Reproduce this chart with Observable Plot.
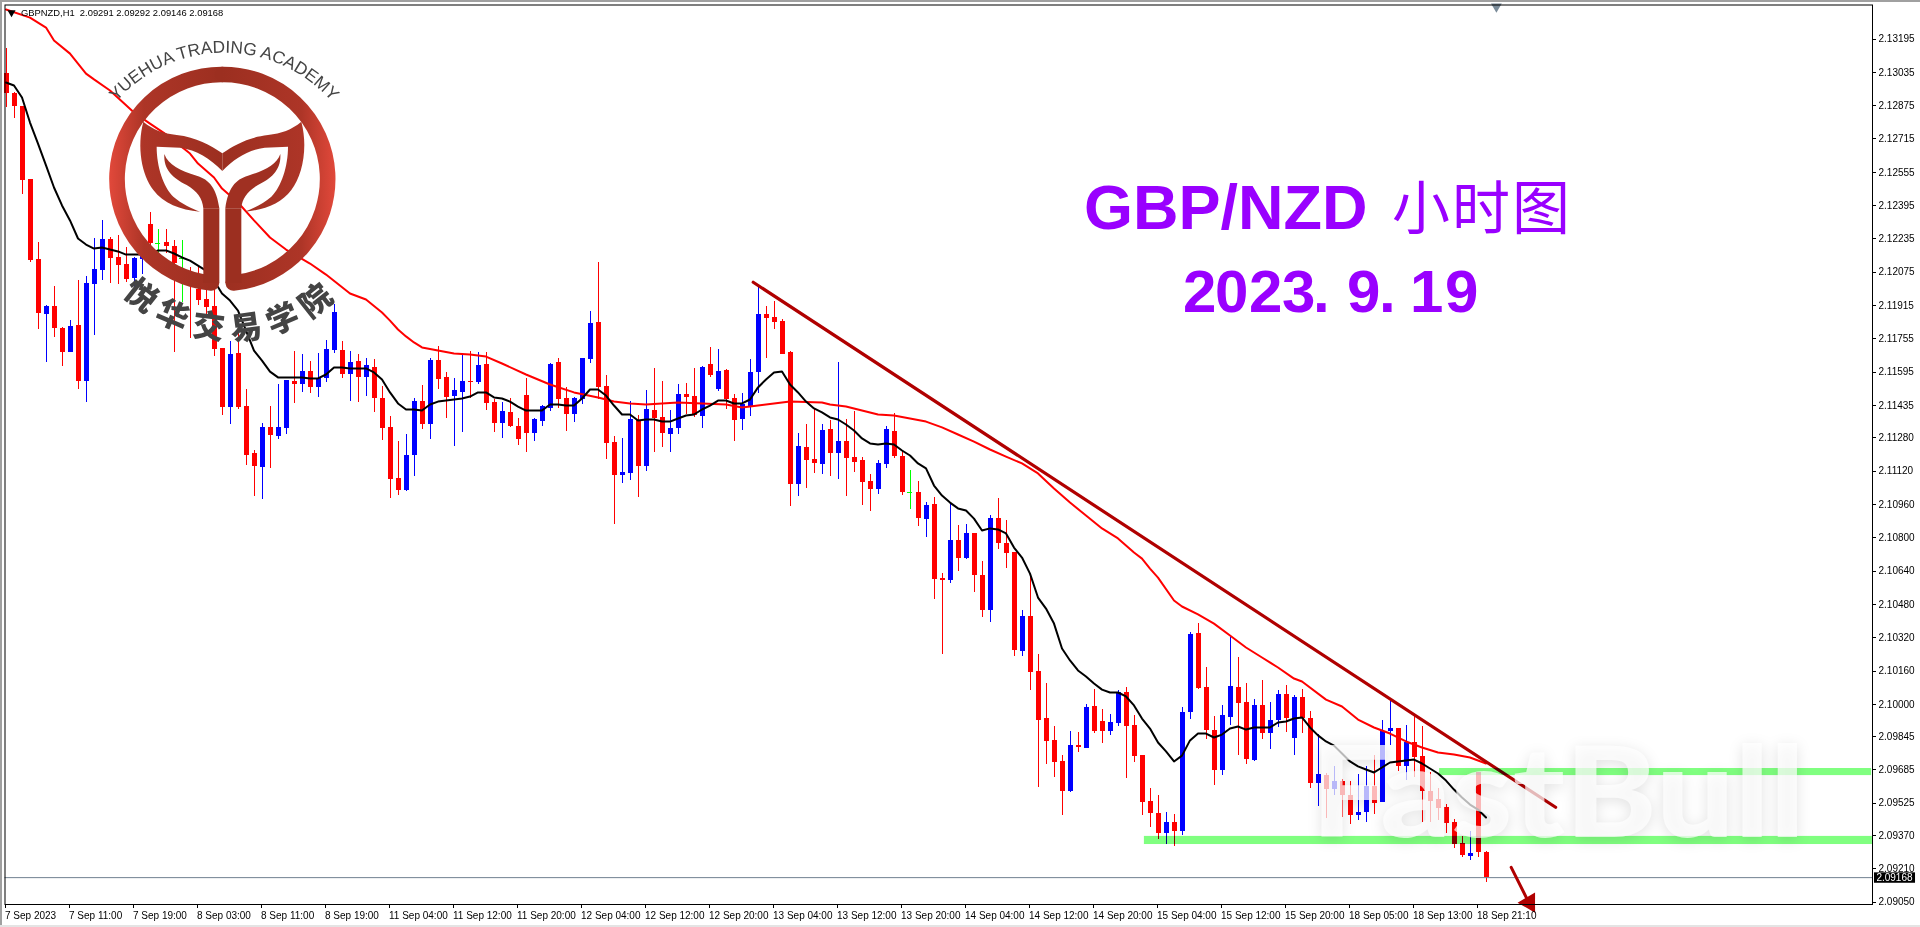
<!DOCTYPE html>
<html><head><meta charset="utf-8">
<script src="https://cdn.jsdelivr.net/npm/d3@7"></script>
<script src="https://cdn.jsdelivr.net/npm/@observablehq/plot@0.6"></script>
<style>
html,body{margin:0;padding:0;background:#fff;overflow:hidden}
#edgeT{position:absolute;left:0;top:0;width:1920px;height:2px;background:#a0a0a0}
#edgeL{position:absolute;left:0;top:0;width:2px;height:927px;background:#a0a0a0}
#edgeB{position:absolute;left:0;top:925px;width:1920px;height:2px;background:#e4e4e4}
#chart{position:absolute;left:0;top:0}
</style></head><body>
<div id="chart"></div><div id="edgeT"></div><div id="edgeL"></div><div id="edgeB"></div>
<script>
// Prices are in points (1e-5), one entry per hourly candle.
const opens=[213029,212933,212871,212520,212136,211872,211911,211805,211690,211819,
211550,212016,212083,212232,212146,212112,212045,212136,212304,212213,
212218,212199,212141,212074,211992,211944,211911,211709,211426,211685,
211430,211205,211137,211330,211286,211325,211550,211536,211598,211522,
211565,211699,211699,211584,211646,211570,211618,211469,211330,211085,
211027,211195,211454,211344,211651,211570,211478,211498,211550,211546,
211632,211450,211349,211402,211334,211483,211301,211358,211421,211642,
211469,211392,211464,211656,211834,211526,211258,211099,211109,211363,
211142,211411,211378,211296,211325,211488,211478,211382,211632,211512,
211603,211469,211368,211430,211594,211872,211858,211839,211690,211056,
211234,211176,211152,211320,211205,211262,211186,211171,211070,211032,
211152,211310,211190,211017,211017,210888,210960,210604,210595,210787,
210700,210821,210619,210451,210893,210773,210729,210254,210422,210158,
209932,209827,209726,209582,209802,209788,209990,209918,209870,209908,
210057,209899,209754,209534,209476,209380,209433,209390,209961,210340,
210081,209875,209683,209937,210081,210009,209730,209995,209860,209922,
210047,209836,210033,209932,209620,209658,209591,209630,209562,209466,
209481,209606,209529,209870,209884,209702,209817,209750,209582,209543,
209505,209433,209332,209270,209673,209291];
const closes=[212933,212871,212516,212131,211877,211911,211805,211690,211815,211550,
212021,212088,212232,212141,212107,212040,212141,212155,212213,212213,
212199,212117,212141,212011,211939,211906,211704,211426,211680,211426,
211195,211142,211330,211291,211330,211555,211536,211598,211522,211565,
211704,211882,211584,211642,211570,211627,211469,211325,211080,211027,
211195,211454,211344,211651,211560,211474,211507,211550,211546,211627,
211445,211349,211406,211334,211272,211301,211368,211430,211632,211464,
211392,211469,211661,211829,211522,211253,211099,211113,211368,211142,
211416,211373,211301,211325,211488,211474,211387,211618,211579,211598,
211464,211363,211440,211594,211872,211853,211834,211680,211056,211238,
211171,211157,211315,211205,211262,211181,211161,211065,211032,211157,
211320,211190,211017,211017,210892,210955,210600,210595,210787,210700,
210821,210619,210451,210893,210773,210724,210259,210422,210153,209922,
209822,209721,209582,209802,209793,209985,209870,209870,209913,210057,
209894,209750,209529,209476,209380,209433,209390,209961,210336,210076,
209875,209683,209947,210086,210004,209735,209995,209860,209922,210047,
209932,210033,209932,209620,209663,209591,209630,209562,209466,209481,
209606,209524,209870,209884,209702,209817,209745,209582,209534,209500,
209428,209327,209274,209284,209289,209168];
const highs=[213150,212938,212871,212520,212218,211915,212007,211810,211843,212035,
212055,212237,212324,212242,212252,212194,212146,212189,212362,212280,
212280,212228,212228,212098,212098,212035,212011,211709,211743,211786,
211512,211219,211349,211430,211536,211555,211695,211680,211646,211685,
211747,211920,211743,211695,211680,211661,211656,211526,211382,211262,
211296,211469,211531,211661,211719,211594,211565,211675,211695,211690,
211690,211464,211450,211469,211373,211565,211373,211435,211637,211661,
211522,211474,211661,211887,212122,211579,211286,211277,211454,211387,
211507,211613,211550,211411,211536,211541,211613,211622,211714,211704,
211608,211488,211493,211656,212011,211911,211935,211848,211695,211301,
211344,211421,211344,211363,211642,211368,211406,211186,211104,211171,
211334,211397,211214,211123,211070,210969,210993,210628,210960,210859,
210864,210821,210686,210907,210989,210883,210729,210451,210614,210239,
210100,209894,209754,209870,209865,209999,210071,209975,209951,210067,
210081,209947,209754,209596,209562,209481,209471,209985,210345,210388,
210177,209942,209995,210321,210225,210100,210023,210115,210009,210067,
210091,210043,210071,209966,209855,209668,209702,209639,209630,209663,
209702,209754,209923,210014,209884,209899,209942,209894,209673,209596,
209519,209447,209366,209390,209673,209292];
const lows=[212866,212813,212448,212122,211800,211642,211762,211622,211690,211512,
211450,211771,212035,212021,212016,212026,212002,212064,212155,212155,
212165,211690,211930,211757,211915,211858,211670,211387,211344,211416,
211147,210998,210984,211133,211272,211296,211445,211498,211493,211474,
211546,211685,211565,211454,211450,211478,211402,211267,210989,211003,
211022,211094,211320,211272,211512,211373,211238,211306,211469,211536,
211411,211306,211277,211330,211243,211210,211262,211334,211406,211421,
211310,211354,211440,211637,211464,211176,210864,211061,211075,210993,
211118,211210,211234,211210,211296,211392,211378,211325,211570,211502,
211416,211262,211315,211382,211493,211661,211800,211680,210950,210998,
211037,211109,211104,211094,211080,210998,211113,210955,210926,211008,
211133,211181,211003,210936,210854,210801,210504,210239,210580,210638,
210696,210537,210417,210393,210744,210652,210230,210230,210067,209601,
209711,209649,209466,209577,209769,209788,209860,209812,209851,209894,
209644,209721,209466,209409,209351,209327,209317,209370,209927,210071,
209831,209610,209658,209899,209754,209711,209726,209831,209783,209889,
209865,209754,209860,209596,209510,209452,209562,209457,209423,209442,
209433,209471,209529,209802,209678,209634,209649,209433,209433,209442,
209380,209308,209265,209250,209265,209146];
// Short moving average (black), one value per candle.
const maFast=[212986,212972,212914,212794,212693,212588,212482,212396,212324,212237,
212208,212189,212194,212184,212175,212160,212160,212160,212160,212180,
212180,212165,212146,212131,212107,212083,212035,211973,211939,211891,
211795,211699,211651,211598,211570,211570,211570,211570,211565,211565,
211584,211618,211618,211613,211613,211613,211594,211560,211498,211445,
211416,211416,211411,211440,211454,211459,211464,211469,211478,211498,
211498,211474,211469,211454,211430,211411,211411,211411,211440,211440,
211435,211435,211469,211512,211512,211483,211435,211392,211392,211363,
211368,211368,211358,211358,211373,211387,211392,211416,211435,211459,
211459,211445,211445,211464,211522,211560,211594,211598,211536,211498,
211454,211421,211402,211378,211368,211344,211315,211277,211253,211248,
211253,211248,211219,211195,211157,211133,211051,211003,210969,210941,
210931,210892,210835,210845,210840,210821,210753,210705,210628,210513,
210460,210388,210268,210211,210163,210134,210100,210071,210057,210057,
210038,209995,209932,209884,209817,209774,209726,209754,209827,209860,
209860,209841,209855,209884,209894,209879,209889,209889,209889,209913,
209918,209932,209937,209889,209851,209822,209802,209764,209726,209702,
209687,209673,209697,209721,209726,209731,209735,209716,209692,209668,
209634,209591,209553,209519,209495,209457];
// Long moving average (red), read at the candles listed in maSlowAt.
const maSlowAt=[0,3,5,6,8,9,10,11,13,16,18,20,23,24,26,27,29,31,33,35,38,40,43,45,47,48,49,50,51,52,54,56,58,59,60,62,65,68,71,74,76,78,80,82,84,87,90,92,94,96,98,102,103,105,107,109,111,113,115,117,119,121,123,125,127,129,131,133,135,137,139,141,142,143,144,146,147,149,151,153,155,157,159,161,162,165,167,169,171,173,175,177,179,181,183,185];
const maSlow=[213337,213298,213250,213188,213125,213077,213029,213001,212948,212842,212789,212737,212645,212597,212530,212477,212410,212324,212242,212184,212117,212064,211973,211944,211882,211843,211800,211767,211738,211714,211699,211685,211680,211675,211670,211637,211584,211536,211498,211474,211454,211445,211440,211445,211450,211445,211440,211426,211435,211445,211454,211450,211440,211430,211411,211392,211387,211373,211358,211330,211296,211262,211224,211190,211157,211109,211037,210969,210907,210845,210797,210729,210700,210652,210609,210499,210470,210432,210388,210331,210273,210225,210177,210124,210110,210023,209990,209927,209889,209860,209822,209793,209769,209759,209745,209716];
// Axis labels
const yTicks=[2.13195,2.13035,2.12875,2.12715,2.12555,2.12395,2.12235,2.12075,2.11915,2.11755,2.11595,2.11435,2.11280,2.11120,2.10960,2.10800,2.10640,2.10480,2.10320,2.10160,2.10000,2.09845,2.09685,2.09525,2.09370,2.09210,2.09050];
const xTickAt=[0,8,16,24,32,40,48,56,64,72,80,88,96,104,112,120,128,136,144,152,160,168,176,184];
const xLabels=["7 Sep 2023","7 Sep 11:00","7 Sep 19:00","8 Sep 03:00","8 Sep 11:00","8 Sep 19:00","11 Sep 04:00","11 Sep 12:00","11 Sep 20:00","12 Sep 04:00","12 Sep 12:00","12 Sep 20:00","13 Sep 04:00","13 Sep 12:00","13 Sep 20:00","14 Sep 04:00","14 Sep 12:00","14 Sep 20:00","15 Sep 04:00","15 Sep 12:00","15 Sep 20:00","18 Sep 05:00","18 Sep 13:00","18 Sep 21:10"];
// Drawn objects, in (candle, price) terms
const trendLine=[{i:93.4,p:2.12027},{i:193.7,p:2.09506}];
const arrowLine=[{i:188.15,p:2.09217},{i:190.2,p:2.09060}];
const arrowTip=[{i:190.4,p:2.09048}];
const zones=[{i1:179.2,i2:233.2,p1:2.09692,p2:2.09658},{i1:142.3,i2:233.3,p1:2.09366,p2:2.09327}];
const lastClose=2.09168;
const legendLine="GBPNZD,H1  2.09291 2.09292 2.09146 2.09168";

const candles=opens.map((o,i)=>({i,o:o/1e5,c:closes[i]/1e5,h:highs[i]/1e5,l:lows[i]/1e5,
  col:closes[i]>o?"#0000ff":closes[i]<o?"#ff0000":"#00ff00"}));
const fast=maFast.map((v,i)=>({i,p:v/1e5}));
const slow=maSlow.map((v,k)=>({i:maSlowAt[k],p:v/1e5}));
const sans="'Liberation Sans',Arial,sans-serif";

function svgText(txt,attrs,style){
  return ()=>{const t=d3.create("svg:text").text(txt).attr("text-anchor","start");
    for(const k in attrs)t.attr(k,attrs[k]);
    if(style)t.attr("style",style);
    return t.node();};
}
function logo(){
  const g=d3.create("svg:g").attr("transform","scale(0.33333)");
  g.html(`<defs><linearGradient id="lg" gradientUnits="userSpaceOnUse" x1="330" x2="667" y1="0" y2="0">
   <stop offset="0" stop-color="#e0483a"/><stop offset=".3" stop-color="#ad3527"/><stop offset="1" stop-color="#9c2f20"/></linearGradient>
   <g id="half">
    <path d="M667,223.5 A313.5,313.5 0 0 0 634,849" fill="none" stroke="url(#lg)" stroke-width="47" stroke-linecap="round"/>
    <path d="M634,849 L634,625" fill="none" stroke="#9c2f20" stroke-width="48"/>
    <path d="M493,462 C505,495 540,512 590,527 C628,538 650,565 658,625 L610,625 C608,595 590,572 560,555 C520,535 490,510 493,462 Z" fill="#a03022"/>
    <path d="M430,365 C460,390 490,400 530,405 C590,412 630,435 667,460 L667,513 C630,475 590,450 540,443 L470,440 C470,500 490,560 520,590 C545,612 575,625 600,635 C540,630 490,610 460,570 C425,525 410,440 430,365 Z" fill="url(#lg)"/>
   </g></defs>
   <use href="#half"/><use href="#half" transform="translate(1334,0) scale(-1,1)"/>
   <path id="arcTop" d="M244,586 A428,428 0 0 1 1100,586" fill="none"/>
   <text font-family="Liberation Sans" font-size="52" fill="#444"><textPath href="#arcTop" startOffset="50%" text-anchor="middle">YUEHUA TRADING ACADEMY</textPath></text>
   <path id="arcLow" d="M240,564 A455,455 0 0 0 1150,564" fill="none"/>
   <text font-family="Noto Sans CJK SC" font-weight="900" font-size="96" fill="#444" letter-spacing="26"><textPath href="#arcLow" startOffset="50%" text-anchor="middle">悦华交易学院</textPath></text>`);
  return ()=>g.node();
}

const chart=Plot.plot({
  width:1920,height:927,marginLeft:4.5,marginRight:48,marginTop:4.5,marginBottom:23,
  style:{background:"transparent",fontFamily:sans,color:"#000",overflow:"visible"},
  x:{domain:[-0.125,233.3125]},
  y:{domain:[2.09039,2.133584]},
  marks:[
    Plot.ruleX(candles,{x:"i",y1:"l",y2:"h",stroke:"col",strokeWidth:1,shapeRendering:"crispEdges"}),
    Plot.ruleX(candles.filter(d=>d.o!==d.c),{x:"i",y1:"o",y2:"c",stroke:"col",strokeWidth:5,shapeRendering:"crispEdges"}),
    Plot.ruleY(candles.filter(d=>d.o===d.c),{y:"o",x1:d=>d.i-0.3125,x2:d=>d.i+0.3125,stroke:"col",strokeWidth:1,shapeRendering:"crispEdges"}),
    Plot.ruleY([lastClose],{stroke:"#708090",strokeWidth:1}),
    Plot.line(slow,{x:"i",y:"p",stroke:"#ff0000",strokeWidth:2}),
    Plot.line(fast,{x:"i",y:"p",stroke:"#000",strokeWidth:2}),
    Plot.line(trendLine,{x:"i",y:"p",stroke:"#b00000",strokeWidth:3.2}),
    Plot.rect(zones,{x1:"i1",x2:"i2",y1:"p1",y2:"p2",fill:"#80ff80",mixBlendMode:"multiply"}),
    svgText("FastBull",{x:1311,y:837,"font-family":"Lato","font-weight":900,"font-size":125,textLength:494,lengthAdjust:"spacingAndGlyphs",fill:"#fff","fill-opacity":0.72},"filter:drop-shadow(0 3px 7px rgba(0,0,0,.16))"),
    Plot.line(arrowLine,{x:"i",y:"p",stroke:"#b00000",strokeWidth:3}),
    Plot.dot(arrowTip,{x:"i",y:"p",symbol:"triangle",r:7.5,fill:"#b00000",rotate:150}),
    Plot.dot([{i:186.3,p:2.13351}],{x:"i",y:"p",symbol:"triangle",r:4,fill:"#7a8b99",rotate:180}),
    Plot.frame({stroke:"#000",strokeWidth:1}),
    Plot.axisY({anchor:"right",ticks:yTicks,tickSize:3,tickPadding:3,tickFormat:d=>d.toFixed(5),fontSize:10,textAnchor:"start",label:null,stroke:"#000",shapeRendering:"crispEdges"}),
    Plot.axisX({anchor:"bottom",ticks:xTickAt,tickSize:4,tickPadding:3,tickFormat:d=>xLabels[xTickAt.indexOf(d)],fontSize:10,textAnchor:"start",dx:-1,label:null,stroke:"#000",shapeRendering:"crispEdges"}),
    Plot.rect([{x1:233.56,x2:238.69,y1:2.09141,y2:2.09191}],{x1:"x1",x2:"x2",y1:"y1",y2:"y2",fill:"#000"}),
    Plot.text([lastClose],{x:233.8,y:d=>d,text:d=>d.toFixed(5),fill:"#fff",fontSize:10,textAnchor:"start"}),
    Plot.dot([{i:0.69,p:2.13322}],{x:"i",y:"p",symbol:"triangle",r:3,fill:"#000",rotate:180}),
    svgText(legendLine,{x:21,y:16,"font-size":9.4,fill:"#000",style:"white-space:pre"}),
    logo(),
    svgText("GBP/NZD",{x:1084,y:229,"font-size":63,"font-weight":700,fill:"#9900ff","font-family":"Liberation Sans"}),
    svgText("小时图",{x:"1392 1452 1512",y:229,"font-size":58,fill:"#9900ff","font-family":"Noto Sans CJK SC","font-weight":400}),
    svgText("2023.9.19",{x:"1183 1215 1249 1282 1313 1347 1379 1410 1445",y:312,"font-size":60,"font-weight":700,fill:"#9900ff","font-family":"Liberation Sans"})
  ]
});
document.getElementById("chart").append(chart);
</script></body></html>
